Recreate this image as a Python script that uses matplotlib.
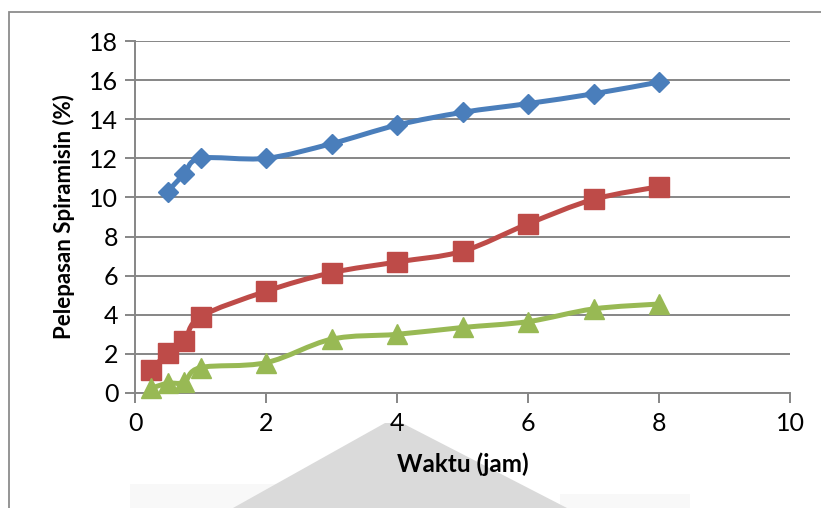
import numpy as np
import matplotlib
matplotlib.use("Agg")
import matplotlib.pyplot as plt
from matplotlib.path import Path
from matplotlib.patches import PathPatch, Polygon, Rectangle

plt.rcParams['font.family'] = ['Lato', 'DejaVu Sans']

# release data (jam vs %)
x_blue = [0.5, 0.75, 1, 2, 3, 4, 5, 6, 7, 8]
y_blue = [10.3, 11.2, 12.0, 12.0, 12.75, 13.7, 14.35, 14.8, 15.3, 15.9]
x_red = [0.25, 0.5, 0.75, 1, 2, 3, 4, 5, 6, 7, 8]
y_red = [1.2, 2.05, 2.65, 3.9, 5.2, 6.15, 6.7, 7.25, 8.65, 9.9, 10.55]
x_green = [0.25, 0.5, 0.75, 1, 2, 3, 4, 5, 6, 7, 8]
y_green = [0.25, 0.5, 0.55, 1.3, 1.55, 2.75, 3.0, 3.35, 3.65, 4.3, 4.55]

xticks = [0, 2, 4, 6, 8, 10]
yticks = [0, 2, 4, 6, 8, 10, 12, 14, 16, 18]

GRID = '#868686'


def smooth_path(xs, ys):
    # excel-like smoothed line: cubic bezier through every point
    p = np.column_stack([xs, ys]).astype(float)
    n = len(p)
    verts = [p[0]]
    codes = [Path.MOVETO]
    for i in range(n - 1):
        a = p[i - 1] if i > 0 else p[i]
        d = p[i + 2] if i + 2 < n else p[i + 1]
        c1 = p[i] + (p[i + 1] - a) / 6.0
        c2 = p[i + 1] - (d - p[i]) / 6.0
        verts += [c1, c2, p[i + 1]]
        codes += [Path.CURVE4] * 3
    return Path(verts, codes)


fig = plt.figure(figsize=(8.21, 5.08), dpi=100)
W, H = 821.0, 508.0

def fpt(x, y):
    return (x / W, 1 - y / H)

# faint logo behind the x label
fig.patches.append(Polygon([fpt(130, 508), fpt(130, 484), fpt(340, 484), fpt(340, 508)],
                           closed=True, transform=fig.transFigure, fc='#f8f8f8', ec='none', zorder=-2))
fig.patches.append(Polygon([fpt(560, 508), fpt(560, 494), fpt(690, 494), fpt(690, 508)],
                           closed=True, transform=fig.transFigure, fc='#f8f8f8', ec='none', zorder=-2))
fig.patches.append(Polygon([fpt(233, 508), fpt(385, 423), fpt(402, 423), fpt(567, 508)],
                           closed=True, transform=fig.transFigure, fc='#dadada', ec='none', zorder=-1))
# chart border
fig.patches.append(Rectangle((9 / W, -0.1), 1.0, (H - 12) / H + 0.1, transform=fig.transFigure,
                             fill=False, ec='#8c8c8c', lw=1.3, zorder=-1))

ax = fig.add_axes([135 / W, (H - 393) / H, 655 / W, 352 / H])
ax.set_facecolor('none')

series = [
    (x_blue, y_blue, '#4a7ebb', 'D', 10.5),
    (x_red, y_red, '#be4b48', 's', 14),
    (x_green, y_green, '#98b954', '^', 14),
]
for xs, ys, col, mk, ms in series:
    ax.add_patch(PathPatch(smooth_path(xs, ys), fill=False, ec=col, lw=3.6,
                           capstyle='round', joinstyle='round', zorder=3))
    ax.plot(xs, ys, ls='none', marker=mk, ms=ms, color=col, mec=col, zorder=4, clip_on=False)

ax.set_xlim(0, 10)
ax.set_ylim(0, 18)
ax.set_xticks(xticks)
ax.set_yticks(yticks)
ax.yaxis.grid(True, color=GRID, lw=1.4)
ax.set_axisbelow(True)
for s in ['top', 'right']:
    ax.spines[s].set_visible(False)
for s in ['left', 'bottom']:
    ax.spines[s].set_color(GRID)
    ax.spines[s].set_linewidth(1.4)
ax.tick_params(axis='both', colors=GRID, length=7, width=1.4, labelsize=18, labelcolor='black')
ax.tick_params(axis='y', pad=5)
ax.tick_params(axis='x', pad=7)

ax.set_xlabel('Waktu (jam)', fontsize=17.5, fontweight='bold', labelpad=12)
ax.set_ylabel('Pelepasan Spiramisin (%)', fontsize=16, fontweight='bold', labelpad=10)

fig.savefig('out.png', dpi=100)
